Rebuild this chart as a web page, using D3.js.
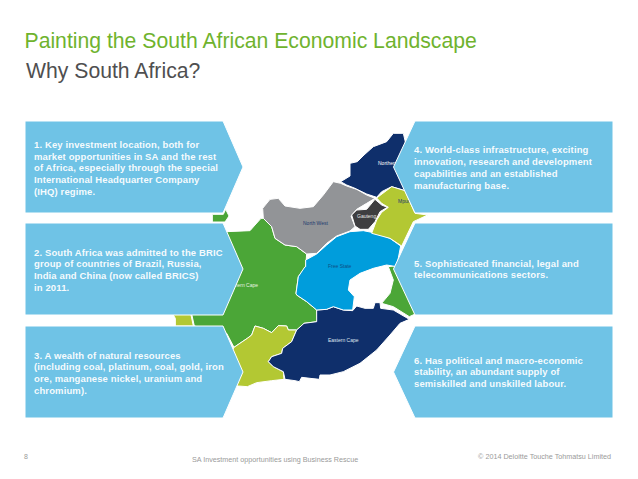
<!DOCTYPE html>
<html><head><meta charset="utf-8">
<script src="https://cdn.jsdelivr.net/npm/d3@7"></script>
<style>html,body{margin:0;padding:0;background:#fff}svg{display:block}text{font-family:"Liberation Sans",Arial,sans-serif}</style>
</head><body><div id="c"></div>
<script>
const titleMain="Painting the South African Economic Landscape";
const titleSub="Why South Africa?";
const panelText=[
["1. Key investment location, both for","market opportunities in SA and the rest","of Africa, especially through the special","International Headquarter Company","(IHQ) regime."],
["2. South Africa was admitted to the BRIC","group of countries of Brazil, Russia,","India and China (now called BRICS)","in 2011."],
["3. A wealth of natural resources","(including coal, platinum, coal, gold, iron","ore, manganese nickel, uranium and","chromium)."],
["4. World-class infrastructure, exciting","innovation, research and development","capabilities and an established","manufacturing base."],
["5. Sophisticated financial, legal and","telecommunications sectors."],
["6. Has political and macro-economic","stability, an abundant supply of","semiskilled and unskilled labour."]];
// province outlines, in map units
const limpopo=[[542,185],[570,168],[570,130],[592,125],[612,105],[640,80],[680,65],[700,40],[730,40],[737,70],[760,120],[750,200],[735,212],[695,200],[665,215],[650,232],[620,222],[585,205],[560,195]];
const northWest=[[308,265],[330,238],[355,235],[375,258],[420,265],[460,260],[490,225],[520,185],[542,190],[560,198],[590,208],[620,225],[645,235],[620,250],[590,268],[573,288],[585,320],[570,333],[530,348],[500,370],[470,400],[440,402],[410,380],[375,375],[345,355],[335,320],[310,295]];
const gauteng=[[575,285],[590,270],[620,268],[645,238],[665,255],[682,262],[660,275],[645,305],[625,328],[600,328],[585,318]];
const mpumalanga=[[650,234],[695,200],[735,212],[765,280],[803,285],[760,305],[725,378],[690,355],[635,340],[650,300],[665,277],[685,262],[665,250]];
const freeState=[[437,440],[437,420],[470,402],[500,375],[530,350],[570,335],[610,332],[650,340],[690,355],[722,378],[710,440],[680,435],[640,445],[600,460],[570,480],[565,510],[583,530],[578,570],[550,570],[520,560],[500,568],[470,570],[440,545],[410,525],[408,520],[415,470],[435,440]];
const kwaZuluNatal=[[685,440],[700,438],[740,470],[770,580],[748,590],[700,560],[665,550],[690,520],[700,480]];
const easternCape=[[470,570],[500,568],[520,560],[550,570],[578,572],[590,558],[615,565],[640,565],[645,548],[660,548],[662,565],[700,570],[748,598],[720,610],[690,645],[650,690],[600,730],[550,755],[510,765],[480,765],[478,778],[450,775],[425,772],[418,785],[405,782],[375,778],[370,755],[340,740],[325,725],[335,710],[365,700],[368,685],[395,665],[410,630],[432,610],[470,605]];
const westernCape=[[222,682],[262,655],[275,645],[285,618],[310,625],[335,638],[355,617],[380,618],[385,630],[410,630],[395,665],[368,685],[365,700],[335,710],[325,725],[340,740],[370,755],[372,778],[335,782],[290,788],[262,800],[235,798],[200,790],[200,720]];
const westernTab=[[25,585],[40,585],[46,595],[46,618],[100,618],[92,580],[45,580],[25,580]];
const northernCape=[[200,335],[270,332],[285,315],[303,295],[310,295],[335,320],[345,355],[375,375],[410,380],[440,402],[437,440],[415,470],[408,520],[410,525],[440,545],[470,570],[472,605],[432,610],[410,630],[385,630],[380,618],[355,617],[335,638],[310,625],[285,618],[275,645],[262,655],[222,682],[200,640],[103,618],[95,582],[150,500],[150,340]];
const northernTab=[[157,283],[190,283],[197,268],[207,288],[195,306],[157,306]];
const provinceShapes=[northernCape,northernTab,westernTab,westernCape,easternCape,kwaZuluNatal,freeState,northWest,limpopo,mpumalanga,gauteng];
const provinceKinds=["green","green","lime","lime","navy","green","blue","grey","navy","lime","dark"];
const provinceLabels=["Northern","North West","Gauteng","Mpumalanga","Free State","Northern Cape","Eastern Cape"];
const footerPage="8";
const footerMid="SA Investment opportunities using Business Rescue";
const footerRight="\u00a9 2014 Deloitte Touche Tohmatsu Limited";

const W=638,H=479;
const colors={green:"#4ba637",lime:"#b3c833",navy:"#0f2f6b",blue:"#009ddc",grey:"#929497",dark:"#3e3e40"};
const svg=d3.select("#c").append("svg").attr("width",W).attr("height",H);
const x=d3.scaleLinear().domain([0,840]).range([160,440]);
const y=d3.scaleLinear().domain([0,900]).range([120,420]);
const path=d3.line().x(d=>x(d[0])).y(d=>y(d[1])).curve(d3.curveLinearClosed);

svg.selectAll("path.prov").data(provinceShapes).join("path").attr("class","prov")
  .attr("d",path).attr("fill",(d,i)=>colors[provinceKinds[i]])
  .attr("stroke","#fff").attr("stroke-width",1).attr("stroke-linejoin","round");

const labelPos=[[378,165,"start","#fff"],[303,225,"start","#1d3a6e"],[357,218,"start","#e8e8e8"],[398,203,"start","#1d3a6e"],[328,268,"start","#0f4f86"],[258,287,"end","#e8f3e0"],[328,342,"start","#dfe6f0"]];
svg.selectAll("text.lab").data(provinceLabels).join("text").attr("class","lab")
  .attr("x",(d,i)=>labelPos[i][0]).attr("y",(d,i)=>labelPos[i][1]).attr("text-anchor",(d,i)=>labelPos[i][2])
  .attr("fill",(d,i)=>labelPos[i][3]).attr("font-size",5).text(d=>d);

const tops=[121,223,326,121,223,326],boxH=92;
const panelShape=i=>{
  const t=tops[i],b=t+boxH,m=t+boxH/2;
  return i<3?[[25,t],[223,t],[243,m],[223,b],[25,b]]:[[613,t],[415,t],[393.5,m],[415,b],[613,b]];
};
const line=d3.line().curve(d3.curveLinearClosed);
svg.selectAll("path.panel").data(panelText).join("path").attr("class","panel")
  .attr("d",(d,i)=>line(panelShape(i))).attr("fill","#6fc3e6").attr("stroke","#fff").attr("stroke-width",1);

const firstY=[147.8,255.5,358.5,153.2,266.5,363.5];
panelText.forEach((lines,i)=>{
  svg.selectAll(null).data(lines).join("text")
   .attr("x",i<3?34:414).attr("y",(d,k)=>firstY[i]+k*11.8)
   .attr("fill","#fff").attr("fill-opacity",0.95).attr("font-size",9.5).attr("font-weight","bold").attr("letter-spacing",0.12).text(d=>d);
});

svg.append("text").attr("x",24.5).attr("y",47.5).attr("font-size",21.2).attr("fill","#6fb32e").text(titleMain);
svg.append("text").attr("x",26).attr("y",78).attr("font-size",21.2).attr("fill","#4f4f50").text(titleSub);
svg.append("text").attr("x",24).attr("y",459).attr("font-size",7).attr("fill","#9a9a9a").text(footerPage);
svg.append("text").attr("x",192).attr("y",462).attr("font-size",7.2).attr("fill","#9a9a9a").text(footerMid);
svg.append("text").attr("x",611).attr("y",459).attr("text-anchor","end").attr("font-size",7.2).attr("fill","#9a9a9a").text(footerRight);
</script></body></html>
